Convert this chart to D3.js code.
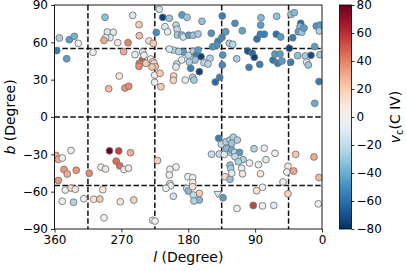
<!DOCTYPE html>
<html>
<head>
<meta charset="utf-8">
<script src="https://cdn.jsdelivr.net/npm/d3@7"></script>
<style>
  body { margin: 0; background: #fff; }
  svg { font-family: "DejaVu Sans", sans-serif; }
</style>
</head>
<body>
<div id="chart"></div>
<script>
// galactic longitude, latitude and C IV velocity for each sightline
const galL = [357.0,343.6,353.5,340.1,333.4,328.0,308.2,292.0,288.9,280.9,285.3,291.1,293.4,275.0,261.1,254.8,246.3,245.9,266.9,251.7,
  241.3,241.8,245.9,246.3,236.9,272.8,287.1,265.1,260.1,232.8,227.0,239.6,230.5,227.8,226.1,224.3,228.8,223.0,219.0,214.4,
  205.5,211.3,207.7,196.5,195.1,194.7,188.8,186.7,179.4,173.2,166.9,188.4,181.7,161.5,149.0,134.2,129.6,140.0,134.6,141.7,
  147.1,124.8,200.1,205.5,173.2,166.9,186.7,192.9,179.9,169.6,162.8,170.9,188.8,178.6,158.8,150.7,153.4,195.5,196.5,176.7,
  165.1,174.0,184.0,172.3,134.2,137.7,143.6,225.2,218.0,199.6,200.1,225.2,216.7,117.1,82.1,61.0,41.7,37.3,82.5,107.3,
  83.0,77.7,61.5,55.6,39.4,87.5,28.7,29.6,31.9,27.3,24.2,7.7,2.7,3.6,120.2,100.0,93.8,91.1,114.8,98.2,
  83.8,65.9,63.3,56.5,59.6,53.8,44.0,42.1,32.7,22.5,20.6,18.4,14.8,9.8,2.7,4.0,9.8,133.6,
  358.0,354.9,349.5,337.8,347.2,342.8,330.7,354.9,313.2,345.5,337.8,332.0,349.6,334.4,320.6,307.2,299.0,295.0,293.4,286.0,
  273.6,257.7,277.0,272.3,297.4,291.4,266.5,260.4,271.4,253.3,221.4,227.8,224.7,204.6,196.5,205.5,204.6,203.6,210.0,200.1,
  180.3,174.0,174.0,182.1,179.9,174.0,165.1,173.2,165.1,172.3,133.2,139.0,135.5,129.2,123.8,119.4,114.0,121.5,148.7,138.2,
  131.5,128.3,122.9,123.8,122.9,130.5,123.8,121.5,117.5,111.0,117.1,106.3,112.6,97.6,91.5,77.7,75.4,85.5,63.3,108.1,
  107.0,121.5,82.8,114.4,92.5,80.1,64.9,88.1,80.1,52.5,45.8,47.4,45.8,35.4,38.1,10.8,4.0,5.1]
const galB = [53.4,46.8,63.5,62.1,64.8,59.2,52.0,80.1,68.3,68.1,63.7,63.7,61.6,59.7,59.7,81.7,74.2,65.3,52.5,50.1,
  52.2,45.8,43.0,40.7,43.2,32.9,22.7,23.3,24.7,61.1,59.2,49.6,46.6,44.4,43.2,40.4,40.2,67.9,86.5,80.1,
  79.3,72.6,68.5,73.9,70.5,65.9,65.9,64.3,65.7,65.7,66.7,82.0,80.1,76.9,67.3,81.2,68.5,60.8,64.0,57.6,
  56.5,59.2,53.8,54.6,52.8,53.8,52.2,52.6,49.6,49.6,48.5,45.8,45.8,44.2,43.6,47.2,42.6,42.6,40.2,39.1,
  36.4,31.9,29.7,29.7,41.8,31.9,28.1,33.7,35.1,32.9,29.5,27.9,24.3,75.3,79.8,80.9,82.5,83.8,73.9,69.3,
  66.5,66.5,66.5,64.3,63.7,62.7,75.3,72.6,68.5,68.1,71.5,73.1,73.9,69.1,58.4,53.0,51.4,48.0,46.8,39.9,
  42.3,45.8,50.6,50.6,43.2,45.0,55.2,44.0,49.3,49.0,44.0,41.8,49.6,56.5,50.1,28.5,11.0,49.8,
  -30.9,-34.0,-33.0,-26.9,-42.2,-45.8,-42.8,-51.0,-45.2,-58.7,-57.1,-58.1,-67.7,-68.5,-65.7,-66.1,-65.9,-58.4,-81.0,-27.2,
  -27.3,-28.7,-35.5,-39.2,-40.3,-41.8,-42.2,-41.1,-68.1,-66.7,-35.0,-83.0,-83.6,-42.0,-40.2,-46.6,-53.6,-55.2,-57.3,-63.7,
  -48.0,-48.8,-52.8,-57.3,-59.5,-56.0,-61.3,-62.7,-66.7,-67.5,-64.9,-17.1,-21.9,-19.9,-18.5,-16.3,-18.5,-21.1,-29.9,-29.7,
  -30.0,-25.2,-28.4,-38.6,-41.2,-48.0,-50.0,-26.5,-28.4,-28.5,-31.9,-34.2,-35.9,-37.0,-25.5,-25.1,-34.3,-38.3,-29.2,-41.2,
  -45.6,-45.2,-45.6,-73.5,-71.1,-71.4,-71.0,-59.2,-56.5,-52.2,-39.6,-44.2,-61.7,-30.0,-43.4,-32.1,-48.6,-69.8]
const vCIV = [-55,-45,-25,-45,-38,3,-5,-33,-12,-12,-10,-5,30,8,40,-10,20,25,30,-8,
  -12,50,42,38,20,8,25,35,38,12,20,-3,-3,18,15,25,22,-50,-15,-75,
  -30,-12,-8,-22,-22,-28,-35,-15,-45,-30,-28,-45,-30,-32,-48,-55,-45,-55,-52,-48,
  -48,-25,-25,-10,-25,-45,-45,-25,-22,-55,-75,-30,-5,-25,-22,-25,-22,-20,-10,-55,
  -75,-25,-8,-28,-52,-55,-62,-5,20,18,18,-3,20,-50,-35,-32,-30,-35,-45,-42,
  -55,-55,-60,-45,-55,-60,-62,-35,-45,-30,-45,-48,-45,-25,-22,-70,-62,-75,-28,-55,
  -55,-58,-45,-45,-55,-45,-75,-55,-32,-28,-10,-30,-72,-45,-28,-55,-40,-48,
  30,30,-3,-5,35,30,35,35,38,-3,15,8,4,-25,-3,10,22,8,3,78,
  55,30,45,45,-3,8,-3,8,10,18,20,-2,-2,-5,-5,-3,-10,-8,-3,-15,
  -3,-3,-3,-20,-35,12,20,-20,-35,-25,-45,-55,-20,-25,-25,-25,-25,-30,-18,-20,
  -10,-35,-25,-32,-28,15,-32,-40,-22,-45,-20,-25,-25,-3,-25,-5,-10,-3,-3,-8,
  10,-8,10,-3,55,-3,-10,10,-3,-3,10,-3,18,22,32,30,25,-3]
// the one sightline drawn with a triangle
const triL = [140.4]
const triB = [-61.9]
const triV = [-10]

const lTicks = [360, 270, 180, 90, 0]
const bTicks = [90, 60, 30, 0, -30, -60, -90]
const cbTicks = [80, 60, 40, 20, 0, -20, -40, -60, -80]
const lLines = [315, 225, 135, 45]
const bLines = [55, 0, -55]

const W = 407, H = 271
const box = {left: 54.5, right: 322, top: 5, bottom: 229}
const cb = {left: 339.5, width: 12}

const svg = d3.select("#chart").append("svg")
  .attr("width", W)
  .attr("height", H)

const x = d3.scaleLinear().domain([360, 0]).range([box.left, box.right])
const y = d3.scaleLinear().domain([-90, 90]).range([box.bottom, box.top])
const vScale = d3.scaleLinear().domain([-80, 80]).range([box.bottom, box.top])
const color = v => d3.interpolateRdBu(1 - (Math.max(-80, Math.min(80, v)) + 80) / 160)
const fmt = d => d < 0 ? "\u2212" + Math.abs(d) : String(d)

svg.append("defs").append("clipPath").attr("id", "clip")
  .append("rect")
  .attr("x", box.left).attr("y", box.top)
  .attr("width", box.right - box.left).attr("height", box.bottom - box.top)

// dashed guide lines
const gLines = svg.append("g")
  .attr("stroke", "#111")
  .attr("stroke-width", 1.5)
  .attr("stroke-dasharray", "5.5,2.4")
gLines.selectAll(".vl").data(lLines).enter().append("line")
  .attr("x1", d => x(d)).attr("x2", d => x(d))
  .attr("y1", box.top).attr("y2", box.bottom)
gLines.selectAll(".hl").data(bLines).enter().append("line")
  .attr("x1", box.left).attr("x2", box.right)
  .attr("y1", d => y(d)).attr("y2", d => y(d))

// sightlines
const pts = galL.map((l, i) => ({l, b: galB[i], v: vCIV[i]}))
const gPts = svg.append("g").attr("clip-path", "url(#clip)")
gPts.selectAll("circle").data(pts).enter().append("circle")
  .attr("cx", d => x(d.l))
  .attr("cy", d => y(d.b))
  .attr("r", 3.4)
  .attr("fill", d => color(d.v))
  .attr("stroke", "#777")
  .attr("stroke-width", 0.9)

const tris = triL.map((l, i) => ({l, b: triB[i], v: triV[i]}))
gPts.selectAll("path").data(tris).enter().append("path")
  .attr("transform", d => `translate(${x(d.l)},${y(d.b)})`)
  .attr("d", "M-3.8,-2.6L3.8,-2.6L0,3.8Z")
  .attr("fill", d => color(d.v))
  .attr("stroke", "#777")
  .attr("stroke-width", 0.9)

// axes
const xAxis = svg.append("g")
  .attr("transform", `translate(0,${box.bottom})`)
  .call(d3.axisBottom(x).tickValues(lTicks).tickSize(3.5).tickPadding(3).tickFormat(d => String(d)))
const yAxis = svg.append("g")
  .attr("transform", `translate(${box.left},0)`)
  .call(d3.axisLeft(y).tickValues(bTicks).tickSize(3.5).tickPadding(3).tickFormat(fmt))
;[xAxis, yAxis].forEach(g => {
  g.select(".domain").remove()
  g.selectAll("text").attr("font-size", 12).attr("fill", "#000")
    .attr("font-family", "DejaVu Sans")
  g.selectAll("line").attr("stroke", "#000").attr("stroke-width", 0.8)
})

svg.append("rect")
  .attr("x", box.left).attr("y", box.top)
  .attr("width", box.right - box.left).attr("height", box.bottom - box.top)
  .attr("fill", "none").attr("stroke", "#000").attr("stroke-width", 0.9)

const xl = svg.append("text")
  .attr("x", (box.left + box.right) / 2).attr("y", 262)
  .attr("text-anchor", "middle").attr("font-size", 14)
xl.append("tspan").attr("font-style", "italic").text("l")
xl.append("tspan").text(" (Degree)")

const yl = svg.append("text")
  .attr("transform", `translate(15,${(box.top + box.bottom) / 2}) rotate(-90)`)
  .attr("text-anchor", "middle").attr("font-size", 14)
yl.append("tspan").attr("font-style", "italic").text("b")
yl.append("tspan").text(" (Degree)")

// colorbar
const grad = svg.select("defs").append("linearGradient")
  .attr("id", "cbgrad").attr("x1", 0).attr("x2", 0).attr("y1", 1).attr("y2", 0)
d3.range(0, 1.0001, 0.05).forEach(t => {
  grad.append("stop").attr("offset", t).attr("stop-color", d3.interpolateRdBu(1 - t))
})
svg.append("rect")
  .attr("x", cb.left).attr("y", box.top)
  .attr("width", cb.width).attr("height", box.bottom - box.top)
  .attr("fill", "url(#cbgrad)")
  .attr("stroke", "#000").attr("stroke-width", 0.8)

const cAxis = svg.append("g")
  .attr("transform", `translate(${cb.left + cb.width},0)`)
  .call(d3.axisRight(vScale).tickValues(cbTicks).tickSize(3).tickPadding(2).tickFormat(fmt))
cAxis.select(".domain").remove()
cAxis.selectAll("text").attr("font-size", 12).attr("fill", "#000").attr("font-family", "DejaVu Sans")
cAxis.selectAll("line").attr("stroke", "#000").attr("stroke-width", 0.8)

const cl = svg.append("text")
  .attr("transform", `translate(400,${(box.top + box.bottom) / 2}) rotate(-90)`)
  .attr("text-anchor", "middle").attr("font-size", 14)
cl.append("tspan").attr("font-style", "italic").text("v")
cl.append("tspan").attr("font-size", 10).attr("dy", 3).text("c")
cl.append("tspan").attr("dy", -3).text("(C IV)")
</script>
</body>
</html>
